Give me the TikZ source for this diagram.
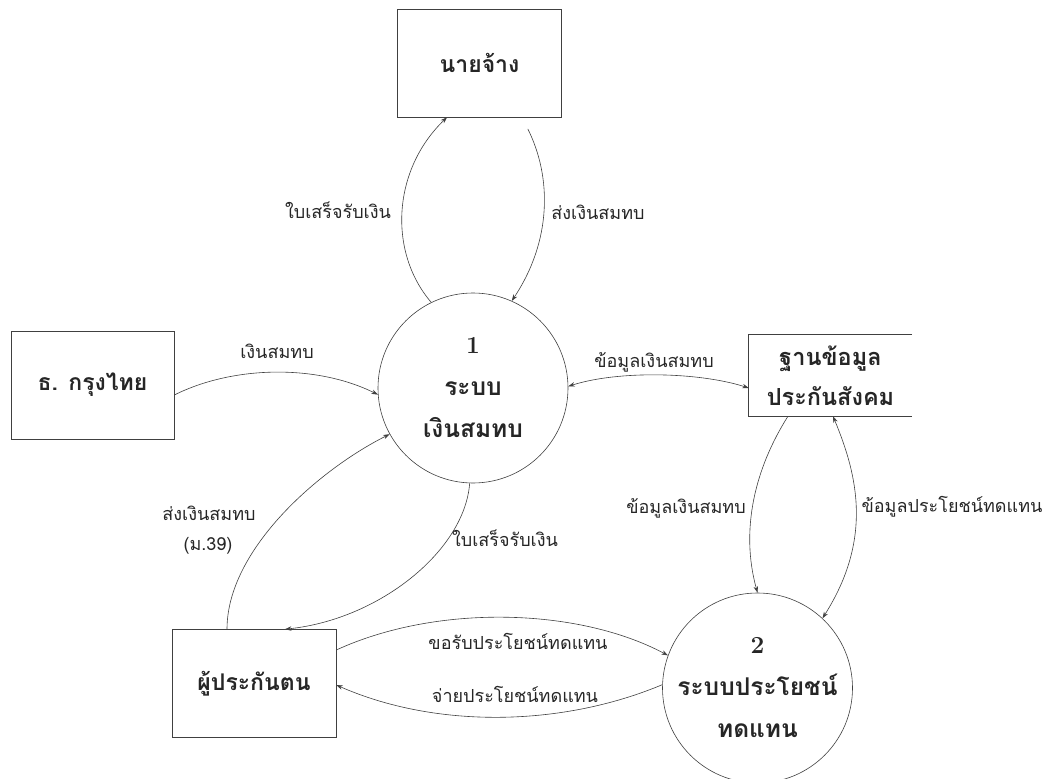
\documentclass[tikz,border=0pt]{standalone}
\usepackage{fontspec}
\newfontfamily\thai[Script=Thai]{Loma}
\usetikzlibrary{arrows.meta}
\begin{document}
\begin{tikzpicture}[x=1pt,y=-1pt,
  every node/.style={inner sep=0pt},
  >={Stealth[length=6.5pt,width=4.5pt]},
  line/.style={draw=black!75, line width=0.6pt},
  flow/.style={line, ->},
  bi/.style={line, <->},
  ext/.style={line, minimum width=164pt, minimum height=108pt,
    font=\thai\bfseries\fontsize{23}{28}\selectfont, text=black!85},
  store/.style={minimum width=163pt, minimum height=81pt, align=center,
    font=\thai\bfseries\fontsize{23.5}{40}\selectfont, text=black!85},
  proc/.style={circle, line, minimum size=190pt, align=center,
    font=\thai\bfseries\fontsize{24.5}{42}\selectfont, text=black!85},
  lbl/.style={font=\thai\fontsize{18}{22}\selectfont, text=black!85}]
\useasboundingbox (0,0) rectangle (1045,779);

% external entities
\node[ext] (emp) at (479.5,63) {นายจ้าง};
\node[ext, minimum width=163pt] (bank) at (92.5,385) {ธ. กรุงไทย};
\node[ext] (ins) at (254,683.5) {ผู้ประกันตน};
\node[store] (db) at (830.5,375.5) {ฐานข้อมูล\\ประกันสังคม};
\draw[line, line width=0.7pt] (db.north east) -- (db.north west) -- (db.south west) -- (db.south east);

% processes
\node[proc] (c1) at (473,388) {{\rmfamily\bfseries 1}\\ระบบ\\เงินสมทบ};
\node[proc] (c2) at (757.5,688) {{\rmfamily\bfseries 2}\\ระบบประโยชน์\\ทดแทน};

% flows
\draw[flow] (c1.116) .. controls +(-43,-50) and +(-55,53) .. ([xshift=-32.5pt]emp.south);
\draw[flow, shorten <=13pt] ([xshift=42.5pt]emp.south) .. controls +(30,60) and +(40,-60) .. (c1.66);
\draw[flow] ([yshift=-10pt]bank.east) .. controls +(60,-30) and +(-60,-30) .. (c1.184);
\draw[bi] (c1.1) .. controls +(50,-16) and +(-50,-16) .. ([yshift=-12.5pt]db.west);
\draw[flow] ([xshift=-42.5pt]db.south) .. controls +(-33,52) and +(-17.5,-63) .. (c2.90);
\draw[bi] ([xshift=2.5pt]db.south) .. controls +(25,60) and +(50,-79) .. (c2.47);
\draw[flow] ([xshift=-27pt]ins.north) .. controls +(0,-80) and +(-70,35) .. (c1.209);
\draw[flow] (c1.268) .. controls +(-5,67) and +(95,-10) .. ([xshift=31pt]ins.north);
\draw[flow] ([yshift=33.5pt]ins.east) .. controls +(100,-46) and +(-90,-48) .. (c2.160);
\draw[flow] (c2.178) .. controls +(-100,42) and +(100,44) .. ([yshift=-1.5pt]ins.east);

% labels
\node[lbl] (l1) at (338,210) {ใบเสร็จรับเงิน};
\node[lbl] (l2) at (598,212) {ส่งเงินสมทบ};
\node[lbl] (l3) at (277,351) {เงินสมทบ};
\node[lbl] (l4) at (654,362) {ข้อมูลเงินสมทบ};
\node[lbl] (l5) at (686,508) {ข้อมูลเงินสมทบ};
\node[lbl] (l6) at (952,507) {ข้อมูลประโยชน์ทดแทน};
\node[lbl] (l7) at (209,513) {ส่งเงินสมทบ};
\node[lbl] (l8) at (208,546) {(ม.39)};
\node[lbl] (l9) at (505,538) {ใบเสร็จรับเงิน};
\node[lbl] (l10) at (518,641) {ขอรับประโยชน์ทดแทน};
\node[lbl] (l11) at (515,694) {จ่ายประโยชน์ทดแทน};
\end{tikzpicture}
\end{document}
